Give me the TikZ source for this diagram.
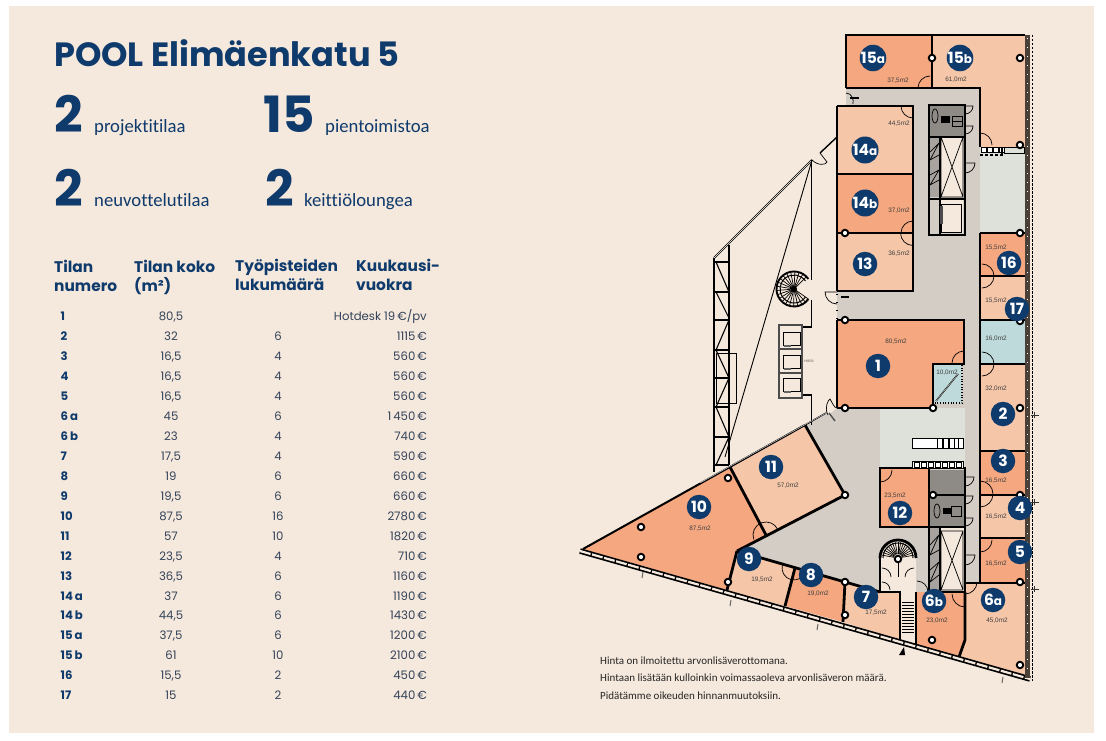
\documentclass[tikz,border=0pt]{standalone}
\usepackage{fontspec}
\setmainfont{Poppins}
\newfontfamily\narrowf[Ligatures=NoCommon]{Carlito}
\newfontfamily\plainf{Liberation Sans}
\definecolor{panel}{HTML}{F5E8DC}
\definecolor{navy}{HTML}{0E3A6C}
\definecolor{ink}{HTML}{33435A}
\definecolor{orangeroom}{HTML}{F5A77F}
\definecolor{peachroom}{HTML}{F5C6A8}
\definecolor{blueroom}{HTML}{BFDADA}
\definecolor{lounge}{HTML}{DEE1DA}
\definecolor{corr}{HTML}{D4CDC6}
\definecolor{wcgrey}{HTML}{8E8A86}
\definecolor{stairgrey}{HTML}{A8A39E}
\definecolor{facade}{HTML}{4A4038}
\tikzset{
  wall/.style={draw=black,line width=2.8pt,line join=miter},
  thinwall/.style={draw=black,line width=1.2pt},
  hair/.style={draw=black,line width=.7pt},
  door/.style={draw=black,line width=.7pt},
  badge/.style={circle,fill=navy,text=white,inner sep=0pt,minimum size=24.5pt,font=\bfseries\fontsize{15.5}{15.5}\selectfont},
  area/.style={text=black!75,inner sep=0pt,font=\plainf\fontsize{6.4}{7}\selectfont},
  pillar/.style={circle,draw=black,fill=white,line width=1.9pt,minimum size=6.5pt,inner sep=0pt},
  titletext/.style={anchor=base west,inner sep=0pt,text=navy,font=\bfseries\fontsize{33.6}{34}\selectfont},
  bignum/.style={anchor=base west,inner sep=0pt,text=navy,font=\bfseries\fontsize{50}{50}\selectfont},
  subtext/.style={anchor=base west,inner sep=0pt,text=navy,font=\narrowf\fontsize{18.7}{19}\selectfont},
  headtext/.style={anchor=base west,inner sep=0pt,text=navy,align=left,font=\bfseries\fontsize{15.4}{19}\selectfont},
  rownum/.style={anchor=base west,inner sep=0pt,text=navy,font=\bfseries\fontsize{11.7}{12}\selectfont},
  cell/.style={anchor=base,inner sep=0pt,text=ink,font=\fontsize{11.7}{12}\selectfont},
  rent/.style={anchor=base east,inner sep=0pt,text=ink,font=\fontsize{11.7}{12}\selectfont},
  foot/.style={anchor=base west,inner sep=0pt,text=black!85,font=\narrowf\fontsize{11}{11}\selectfont},
}
\newcommand\doorarc[5]{\draw[door] (#1,#2) ++(#3:#5) arc[start angle=#3,end angle=#4,radius=#5];}
\newcommand\doorleaf[5]{\draw[door] (#1,#2) -- ++(#3:#5) arc[start angle=#3,end angle=#4,radius=#5];}
\begin{document}
\begin{tikzpicture}[x=1pt,y=-1pt]
\useasboundingbox (0,0) rectangle (1106,741);
\fill[white] (0,0) rectangle (1106,741);
\fill[panel] (9,6) rectangle (1094,733);

% ---- text column
\node[titletext] (title) at (54,67) {POOL Elimäenkatu 5};
\node[bignum] (n1) at (54,133) {2};
\node[subtext] (t1) at (94,133) {projektitilaa};
\node[bignum] (n2) at (263,133) {15};
\node[subtext] (t2) at (325,133) {pientoimistoa};
\node[bignum] (n3) at (54,206) {2};
\node[subtext] (t3) at (94,206) {neuvottelutilaa};
\node[bignum] (n4) at (265,206) {2};
\node[subtext] (t4) at (304,206) {keittiöloungea};

\node[headtext] (h1) at (54,291) {Tilan\\numero};
\node[headtext] (h2) at (134,291) {Tilan koko\\(m²)};
\node[headtext] (h3) at (235,290) {Työpisteiden\\lukumäärä};
\node[headtext] (h4) at (356,290) {Kuukausi-\\vuokra};

\node[rownum] (r1) at (60.5,320) {1};
\node[cell] (s1) at (171,320) {80,5};
\node[rent] (m1) at (427,320) {Hotdesk 19\,€/pv};
\foreach \i/\lab/\yy/\sz/\wk/\rr in {
 2/2/340/{32}/6/{1115\,€},3/3/360/{16,5}/4/{560\,€},4/4/380/{16,5}/4/{560\,€},5/5/400/{16,5}/4/{560\,€},
 6/{6\,a}/420/{45}/6/{1\,450\,€},7/{6\,b}/440/{23}/4/{740\,€},8/7/460/{17,5}/4/{590\,€},9/8/480/{19}/6/{660\,€},
 10/9/500/{19,5}/6/{660\,€},11/10/520/{87,5}/16/{2780\,€},12/11/540/{57}/10/{1820\,€},13/12/560/{23,5}/4/{710\,€},
 14/13/580/{36,5}/6/{1160\,€},15/{14\,a}/600/{37}/6/{1190\,€},16/{14\,b}/619/{44,5}/6/{1430\,€},17/{15\,a}/639/{37,5}/6/{1200\,€},
 18/{15\,b}/659/{61}/10/{2100\,€},19/16/679/{15,5}/2/{450\,€},20/17/699/{15}/2/{440\,€}}{
  \node[rownum] (r\i) at (60.5,\yy) {\lab};
  \node[cell] (s\i) at (171,\yy) {\sz};
  \node[cell] (w\i) at (278,\yy) {\wk};
  \node[rent] (m\i) at (427,\yy) {\rr};
}
\node[foot] (f1) at (600,664) {Hinta on ilmoitettu arvonlisäverottomana.};
\node[foot] (f2) at (600,681) {Hintaan lisätään kulloinkin voimassaoleva arvonlisäveron määrä.};
\node[foot] (f3) at (600,699) {Pidätämme oikeuden hinnanmuutoksiin.};

% ---- corridor
\fill[corr] (846,88) -- (980,88) -- (980,583) -- (965,592) -- (880,592) -- (850,583) -- (737,551) -- (766,535) -- (845,495) -- (805,425) -- (827,412) -- (837,408) -- (837,106) -- (846,106) -- cycle;
% lounges
\fill[lounge] (980,147) rectangle (1025,233);
\fill[lounge] (880,408) rectangle (965,468);
% rooms
\fill[orangeroom] (846,35) rectangle (932,88);
\fill[peachroom] (932,35) -- (1025,35) -- (1025,147) -- (980,147) -- (980,88) -- (932,88) -- cycle;
\fill[peachroom] (837,106) rectangle (913,174);
\fill[orangeroom] (837,174) rectangle (913,233);
\fill[peachroom] (837,233) rectangle (913,291);
\fill[orangeroom] (837,320) -- (964,320) -- (964,364) -- (932,364) -- (932,408) -- (837,408) -- cycle;
\fill[blueroom] (932,364) rectangle (962,403);
\fill[orangeroom] (980,233) rectangle (1025,276);
\fill[peachroom] (980,276) rectangle (1025,320);
\fill[blueroom] (980,320) rectangle (1025,364);
\fill[peachroom] (980,364) rectangle (1025,451);
\fill[orangeroom] (980,451) rectangle (1025,495);
\fill[peachroom] (980,495) rectangle (1025,538);
\fill[orangeroom] (980,538) rectangle (1025,583);
\fill[peachroom] (965,583) -- (1025,583) -- (1025,676) -- (959,657) -- (965,640) -- cycle;
\fill[orangeroom] (916,592) -- (965,592) -- (965,640) -- (959,657) -- (916,645) -- cycle;
\fill[orangeroom] (880,468) rectangle (929,527);
\fill[peachroom] (845,582) -- (880,592) -- (900,592) -- (900,640) -- (843,622) -- cycle;
\fill[orangeroom] (795,568) -- (845,582) -- (843,622) -- (785,606) -- cycle;
\fill[peachroom] (737,551) -- (795,568) -- (785,606) -- (727,590) -- cycle;
\fill[orangeroom] (583,549) -- (730,467) -- (766,535) -- (737,551) -- (727,590) -- cycle;
\fill[peachroom] (730,467) -- (805,425) -- (845,495) -- (766,535) -- cycle;
% stair well
\fill[panel] (880,592) -- (880,558) arc[start angle=180,end angle=360,radius=18] -- (916,645) -- (900,640) -- (900,592) -- cycle;

% ---- atrium
\draw[line width=2pt] (714,258) -- (812,160);
\draw[white,line width=.4pt] (714,258) -- (812,160);
\draw[line width=1.4pt] (820,153) -- (837,137);
\draw[door] (812,160) .. controls (818,166) and (826,165) .. (827,162) -- (820,153);
\draw[hair,line width=.9pt] (812,160) -- (725,457);
\draw[thinwall] (811.7,160) -- (811.7,280);
\draw[thinwall] (811.7,300) -- (811.7,327) -- (802,327);
\draw[thinwall] (802,395) -- (811.7,395) -- (811.7,425);
% truss
\draw[line width=1.6pt] (714,258) -- (714,472);
\draw[line width=1.6pt] (729,245) -- (729,465);
\foreach \yb in {292,320,350,378,407,437,465}{
  \draw[line width=1.1pt] (714,\yb) -- (729,\yb);
}
\draw[line width=1.1pt] (714,262) -- (729,262);
\draw[line width=1.1pt] (716,262) -- (729,292) (716,292) -- (729,318) (729,320) -- (716,350) (716,350) -- (729,378) (729,378) -- (716,407) (716,407) -- (729,437) (729,437) -- (716,465);
\draw[hair,line width=.5pt] (716,353) rectangle (736,403);
% lifts
\fill[panel] (779,325) rectangle (802,398);
\draw[draw=black!70,line width=1.5pt] (779,325) rectangle (802,398);
\draw[draw=black!70,line width=1.5pt] (779,349) -- (802,349) (779,373) -- (802,373);
\foreach \yy in {332,355,378}{
  \draw[hair] (783,\yy) rectangle (800,\yy+13);
  \fill[black!60] (784,\yy+13) rectangle (791,\yy+15);
}
\node[inner sep=0pt,text=black!70,font=\plainf\fontsize{3.5}{4}\selectfont] (hiss) at (809,361) {HISSI};
% spiral stair
\draw[line width=1.9pt] (794,289) ++(-35:17.5) arc[start angle=-35,end angle=-325,radius=17.5];
\draw[line width=1pt] (794,289) ++(-35:14) arc[start angle=-35,end angle=-325,radius=14];
\foreach \a in {35,49,...,325}{
  \draw[line width=.7pt] (794,289) ++(\a:2) -- ++(\a:15.5);
}
\fill (794,289) circle[radius=3];

% ---- core upper
\fill[wcgrey] (929,105) rectangle (965,137);
\fill[panel] (941,137) rectangle (963,197);
\fill[stairgrey] (930,137) rectangle (939,197);
\fill[panel] (941,200) rectangle (963,233);
\draw[wall,line width=1.8pt] (929,105) rectangle (965,235);
\draw[thinwall,line width=1.5pt] (929,137) -- (965,137) (929,199) -- (965,199) (940,137) -- (940,235);
\draw[hair] (941,137) rectangle (963,197) (941,137) -- (963,197) (963,137) -- (941,197);
\draw[hair] (941,204) rectangle (961,232);
\fill[black!70] (940,206) rectangle (943,224);
\draw[hair] (930,152) -- (939,143) -- (930,160) -- (939,155) (930,175) -- (939,170) -- (930,185) -- (939,180);
\draw[door,fill=wcgrey] (935,116) ellipse[x radius=3,y radius=7];
\draw[door] (952,116) rectangle (962,126);
\fill (941,116) rectangle (950,123);
\draw[door] (952,121) -- (962,121);
% ---- core lower
\fill[wcgrey] (929,470) rectangle (965,527);
\fill[panel] (941,527) rectangle (964,592);
\fill[stairgrey] (930,527) rectangle (939,590);
\draw[wall,line width=1.8pt] (929,468) rectangle (965,592);
\draw[thinwall,line width=1.5pt] (929,495) -- (965,495) (929,527) -- (965,527) (940,527) -- (940,592);
\draw[hair] (941,531) rectangle (963,590) (941,531) -- (963,590) (963,531) -- (941,590);
\draw[door,fill=wcgrey] (937,511) ellipse[x radius=3,y radius=7];
\draw[door] (951,506) rectangle (961,516);
\fill (943,508) rectangle (951,514);
\draw[hair] (930,545) -- (939,535) -- (930,555) -- (939,550) (930,570) -- (939,562) -- (930,582) -- (939,575);

% ---- walls
\draw[wall] (846,88) -- (846,35) -- (1025,35);
\draw[wall] (846,88) -- (980,88) -- (980,147);
\draw[wall] (932,35) -- (932,88);
\draw[wall] (837,106) -- (913,106) -- (913,291) -- (837,291);
\draw[thinwall] (837,106) -- (837,291);
\draw[thinwall] (837,320) -- (837,408);
\draw[wall] (837,174) -- (913,174);
\draw[wall] (837,233) -- (913,233);
\draw[wall] (837,320) -- (964,320) -- (964,364);
\draw[wall] (837,408) -- (933,408) -- (933,364) -- (965,364);
\draw[hair,dotted,line width=1.1pt] (933,364) rectangle (962,403);
\draw[line width=1.4pt] (936,401) -- (958,374);
\draw[white,line width=.3pt] (936,401) -- (958,374);
% right-hand rooms
\draw[wall,line width=2.2pt] (980,233) -- (980,583);
\foreach \yy in {233,276,320,364,451,495,538}{\draw[wall,line width=2.2pt] (980,\yy) -- (1026,\yy);}
\draw[wall] (965,583) -- (1026,583);
\draw[wall] (965,592) -- (965,640) -- (959,657);
\draw[wall] (916,592) -- (916,645);
\draw[wall] (900,640) -- (900,592) -- (880,592) -- (880,558);
\draw[wall] (880,558) arc[start angle=180,end angle=360,radius=18];
% room 12
\draw[wall] (880,527) -- (880,468) -- (929,468) -- (929,527) -- cycle;
% south rooms
\draw[wall] (845,582) -- (880,592);
\draw[wall] (845,582) -- (843,622);
\draw[wall] (737,551) -- (845,582);
\draw[wall] (795,568) -- (785,606);
\draw[wall] (737,551) -- (727,590);
\draw[wall] (737,551) -- (845,495) -- (805,425);
\draw[wall] (730,467) -- (766,535);
% north diagonal facade
\draw[line width=2pt] (583,549) -- (805,425);
\draw[line width=1.4pt] (805,425) -- (826,413);
\draw[white,line width=.35pt] (700,483) -- (826,413);
% south facade
\draw[line width=5.6pt] (580,551) -- (1030,679);
\draw[panel,line width=2.2pt,dash pattern=on 11pt off 1.5pt] (580,551) -- (1030,679);
% east facade
\fill[facade] (1025,35) rectangle (1030,678);
\draw[white,line width=1pt,dash pattern=on 1pt off 8pt] (1027.5,38) -- (1027.5,676);
\draw[black,line width=.9pt,dash pattern=on 2.5pt off 1.5pt] (1032,35) -- (1032,681);
% window ticks west side
\draw[black,line width=1.6pt,dash pattern=on 1pt off 7pt] (837,110) -- (837,405);
% facade marks
\foreach \xx/\yy in {643/572,731/600,818/624,1003/677}{\draw[black!60,line width=1pt] (\xx,\yy) -- (\xx-1,\yy+6);}

% ---- furniture
\fill[white] (912,438) rectangle (963,448);
\draw[hair] (912,438) rectangle (963,448);
\foreach \xx in {937,943,949,958}{\draw[door] (\xx,438) rectangle (\xx+5,448);}
\fill[white] (912,461) rectangle (963,468);
\draw[hair] (912,461) rectangle (963,468);
\foreach \xx in {914,921,928,935,942,949,956}{\draw[door] (\xx,462) rectangle (\xx+5,467);}
\foreach \xx in {981,987,993,999}{\fill[white] (\xx,147) rectangle (\xx+5,152);\draw[door] (\xx,147) rectangle (\xx+5,152);}
\draw[line width=1.5pt,dash pattern=on 3pt off 2pt] (980,155) -- (1003,155);
\draw[door] (1004,147) rectangle (1024,153);
\fill (1001,148) rectangle (1003,154);

% ---- doors
\doorarc{930}{88}{180}{270}{12}
\doorarc{980}{145}{270}{360}{12}
\doorarc{913}{106}{180}{90}{12}
\doorarc{913}{233}{180}{270}{12}
\doorarc{913}{233}{180}{90}{12.5}
\doorarc{964}{363}{180}{270}{12}
\doorarc{982}{364}{-90}{90}{12}
\doorarc{982}{276}{-90}{90}{12}
\doorarc{980}{494}{-90}{90}{13}
\doorarc{980}{540}{0}{90}{12}
\doorarc{965}{582}{0}{90}{12}
\doorarc{965}{594}{180}{90}{13}
\doorarc{917}{592}{270}{360}{11}
\doorarc{880}{470}{0}{90}{12}
\doorarc{766}{535}{160}{335}{13}
\doorarc{794}{568}{195}{15}{12}
\doorleaf{837}{292}{180}{90}{12}
\draw[door,fill=panel] (828,415) .. controls (824,408) and (828,400) .. (830,399) .. controls (832,402) and (834,408) .. (837,408);
\draw[door] (846,93) .. controls (852,93) and (854,100) .. (853,104);
\doorleaf{965}{106}{0}{90}{8}
\doorleaf{965}{126}{0}{90}{8}
\doorleaf{965}{163}{0}{90}{10}
\doorleaf{965}{477}{0}{90}{9}
\doorleaf{965}{496}{0}{90}{8}
\doorleaf{965}{518}{0}{90}{8}
\doorleaf{965}{555}{0}{90}{10}
% stair well details
\draw[door] (898,558) -- (898,577);
\foreach \yy in {602,605,...,633}{\draw[door] (902,\yy) -- (914,\yy);}
\foreach \a in {190,200,...,350}{\draw[door] (898,558) ++(\a:4) -- ++(\a:12);}
\draw[door,line width=1pt] (898,558) ++(180:15) arc[start angle=180,end angle=360,radius=15];
\doorarc{882}{577}{270}{360}{9}
\doorarc{914}{577}{180}{270}{9}
\doorarc{882}{590}{270}{360}{8}
\fill (899,655) -- (905,655) -- (904,647) -- cycle;
% exterior marks
\foreach \xx/\yy in {1033/415,1033/502,1033/589}{\draw[black!80,line width=.7pt] (\xx-2,\yy) -- (\xx+6,\yy) (\xx+1,\yy-3) -- (\xx+1,\yy+3);}
\draw[black!70,line width=1.4pt] (829,413) -- (835,421);
\draw[black,line width=1.4pt] (850,98) -- (859,98);
\draw[black,line width=1.4pt] (841,297) -- (849,297);

% ---- pillars
\foreach \i/\xx/\yy in {a/932/58,b/1020/58,c/1020/145,d/845/233,e/1020/233,f/845/320,g/845/408,h/933/408,i/1020/321,j/1020/408,k/728/478,l/845/495,m/641/527,n/641/557,o/728/582,p/845/582,q/845/615,r/933/495,s/1020/495,t/1020/582,u/932/640,v/1020/665,w/898/559}{
  \node[pillar] (p\i) at (\xx,\yy) {};
}

% ---- area labels
\foreach \i/\xx/\yy/\lab in {a/898/81/{37,5m2},b/956/80/{61,0m2},c/899/124/{44,5m2},d/899/211/{37,0m2},e/899/254/{36,5m2},f/896/342/{80,5m2},g/947/373/{10,0m2},h/996/248/{15,5m2},i/996/301/{15,5m2},j/996/339/{16,0m2},k/996/389/{32,0m2},l/996/481/{16,5m2},m/996/517/{16,5m2},n/996/564/{16,5m2},o/895/496/{23,5m2},p/876/613/{17,5m2},q/937/621/{23,0m2},r/997/621/{45,0m2},s/788/486/{57,0m2},t/700/529/{87,5m2},u/762/580/{19,5m2},v/818/594/{19,0m2}}{
  \node[area] (ar\i) at (\xx,\yy) {\lab};
}
% ---- badges
\newcommand\ltr[1]{\fontsize{12}{12}\selectfont #1}
\foreach \i/\xx/\yy/\lab in {a/873/58/{15\ltr{a}},b/960/58/{15\ltr{b}},c/865/150/{14\ltr{a}},d/865/203/{14\ltr{b}},e/865/264/13,f/878/366/1,g/1009/263/16,h/1017/309/17,i/1003/414/2,j/1003/461/3,k/1020/508/4,l/1020/552/5,m/993/600/{6\ltr{a}},n/934/601/{6\ltr{b}},o/866/597/7,p/900/513/12,q/811/575/8,r/749/559/9,s/699/507/10,t/771/467/11}{
  \node[badge] (b\i) at (\xx,\yy) {\lab};
}
\end{tikzpicture}
\end{document}
